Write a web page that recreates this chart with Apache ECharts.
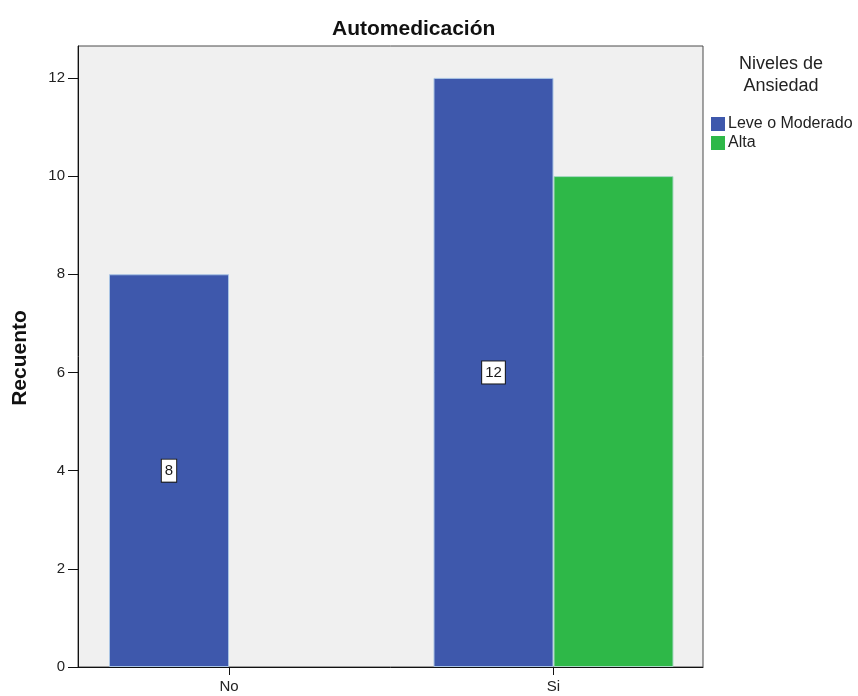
<!DOCTYPE html>
<html>
<head>
<meta charset="utf-8">
<script src="https://cdn.jsdelivr.net/npm/echarts@6/dist/echarts.min.js"></script>
<style>html,body{margin:0;padding:0;background:#fff}#c{width:858px;height:696px}</style>
</head>
<body>
<div id="c"></div>
<script>
const titleText = 'Automedicación';
const categories = ['No', 'Si'];
const seriesNames = ['Leve o Moderado', 'Alta'];
const leveModerado = [8, 12];
const alta = [null, 10];
const yTicks = [0, 2, 4, 6, 8, 10, 12];
const yAxisName = 'Recuento';
const legendTitle = 'Niveles de\nAnsiedad';

const FONT = '"Liberation Sans", Arial, sans-serif';
const Y_MAX = 12.65;

const chart = echarts.init(document.getElementById('c'), null, {renderer: 'canvas'});
const valueLabel = {
  show: true, position: 'inside', color: '#1a1a1a', fontFamily: FONT, fontSize: 15,
  backgroundColor: '#ffffff', borderColor: '#1a1a1a', borderWidth: 1, padding: [4, 3, 3, 3]
};
chart.setOption({
  backgroundColor: '#ffffff',
  animation: false,
  title: {
    text: titleText, left: 327, top: 14,
    textStyle: {fontFamily: FONT, fontSize: 21, fontWeight: 'bold', color: '#111'}
  },
  legend: {
    data: seriesNames, orient: 'vertical', left: 706, top: 111,
    itemWidth: 14, itemHeight: 14, itemGap: 3, icon: 'rect',
    itemStyle: {borderWidth: 0},
    textStyle: {fontFamily: FONT, fontSize: 16, color: '#222', padding: [0, 0, 0, -2]}
  },
  graphic: [
    {type: 'text', left: 739, top: 53, style: {text: legendTitle, fontFamily: FONT, fontSize: 18, lineHeight: 22, fill: '#222', align: 'center', textAlign: 'center'}},
    {type: 'text', x: 20, y: 358, rotation: Math.PI / 2, style: {text: yAxisName, fontFamily: FONT, fontSize: 21, fontWeight: 'bold', fill: '#111', textAlign: 'center', textVerticalAlign: 'middle'}}
  ],
  grid: [
    {left: 78, top: 46, width: 625, height: 621, show: true, backgroundColor: '#f0f0f0', borderColor: '#4a4a4a', borderWidth: 1},
    {left: 66.75, top: 46, width: 649, height: 621}
  ],
  xAxis: [
    {gridIndex: 0, type: 'category', data: categories, axisLine: {show: true, lineStyle: {color: '#111', width: 1}}, axisTick: {show: false}, axisLabel: {show: false}, splitLine: {show: false}},
    {gridIndex: 1, type: 'category', data: categories, axisLine: {show: false},
      axisTick: {show: true, alignWithLabel: true, length: 8, lineStyle: {color: '#111'}},
      axisLabel: {show: true, margin: 12, fontFamily: FONT, fontSize: 15, color: '#222'}, splitLine: {show: false}}
  ],
  yAxis: [
    {gridIndex: 0, type: 'value', min: 0, max: Y_MAX, interval: 2,
      axisLine: {show: true, lineStyle: {color: '#111', width: 1}},
      axisTick: {show: true, length: 10, lineStyle: {color: '#111'}, customValues: yTicks},
      axisLabel: {margin: 13, fontFamily: FONT, fontSize: 15, color: '#222', customValues: yTicks},
      splitLine: {show: false}},
    {gridIndex: 1, type: 'value', min: 0, max: Y_MAX, show: false, splitLine: {show: false}}
  ],
  series: [
    {name: seriesNames[0], type: 'bar', xAxisIndex: 1, yAxisIndex: 1, data: leveModerado,
      barWidth: 120, barGap: '0%',
      itemStyle: {color: '#3e58ac', borderColor: '#a9c4e4', borderWidth: 1},
      label: valueLabel},
    {name: seriesNames[1], type: 'bar', xAxisIndex: 1, yAxisIndex: 1, data: alta,
      barWidth: 120, barGap: '0%',
      itemStyle: {color: '#2eb848', borderColor: '#a9d8c4', borderWidth: 1},
      label: {show: false}}
  ]
});
</script>
</body>
</html>
